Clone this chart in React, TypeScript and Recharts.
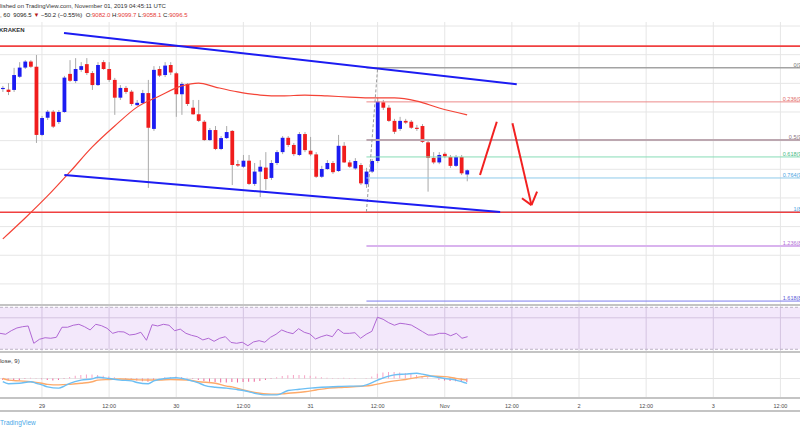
import React from 'react';
import { ComposedChart, Bar, Line, XAxis, YAxis, ReferenceLine, ReferenceArea, CartesianGrid, Cell } from 'recharts';

// ---- candles (hourly, BTCUSD Kraken, from 28 Oct 17:00 to 1 Nov 04:00 UTC) ----
const opens = [9380,9378,9377,9423,9455,9476,9458,9220,9280,9301,
  9265,9300,9433,9408,9447,9467,9436,9394,9474,9450,
  9412,9350,9384,9371,9324,9331,9366,9241,9450,9429,
  9464,9435,9362,9398,9315,9292,9266,9202,9237,9171,
  9209,9234,9118,9109,9130,9049,9092,9106,9070,9122,
  9160,9210,9185,9150,9223,9165,9152,9074,9101,9122,
  9094,9182,9124,9103,9115,9048,9092,9129,9334,9315,
  9269,9241,9269,9266,9245,9251,9194,9140,9124,9154,
  9143,9112,9143,9082.0];
const highs = [9391,9401,9454,9474,9481,9481,9499,9286,9307,9307,
  9307,9426,9481,9488,9474,9488,9443,9474,9481,9474,
  9419,9394,9391,9377,9342,9377,9412,9460,9460,9474,
  9474,9440,9405,9401,9342,9342,9272,9244,9251,9216,
  9251,9237,9132,9150,9150,9122,9132,9160,9132,9167,
  9216,9216,9192,9230,9230,9213,9160,9112,9132,9129,
  9220,9195,9132,9139,9122,9105,9136,9349,9342,9324,
  9276,9283,9276,9272,9255,9258,9202,9160,9160,9160,
  9150,9150,9150,9099.7];
const lows = [9370,9359,9370,9419,9450,9454,9192,9216,9272,9244,
  9258,9297,9405,9401,9440,9429,9377,9391,9447,9405,
  9290,9342,9363,9321,9321,9328,9035,9234,9422,9422,
  9429,9283,9290,9321,9290,9265,9199,9199,9167,9167,
  9206,9045,9108,9105,9045,9042,9003,9028,9063,9115,
  9153,9178,9146,9146,9160,9146,9070,9070,9098,9084,
  9091,9122,9105,9098,9045,9035,9087,9122,9307,9265,
  9223,9234,9258,9241,9234,9192,9022,9118,9118,9139,
  9105,9108,9080,9058.1];
const closes = [9384,9370,9429,9455,9476,9458,9220,9279,9301,9249,
  9300,9420,9409,9450,9460,9436,9394,9464,9450,9412,
  9350,9384,9370,9328,9332,9366,9245,9447,9427,9462,
  9438,9362,9398,9328,9292,9269,9202,9237,9171,9209,
  9230,9115,9113,9130,9049,9092,9109,9066,9122,9160,
  9210,9185,9153,9223,9167,9152,9074,9101,9122,9090,
  9182,9124,9109,9129,9051,9092,9129,9336,9315,9269,
  9231,9269,9263,9245,9241,9196,9140,9124,9150,9145,
  9112,9143,9086,9096.5];

// moving average (red) read at candle indices
const maPoints = [[0,8857],[4,8930],[8,9007],[12,9091],[16,9178],[20,9251],[24,9317],[28,9356],
  [32,9391],[35,9401],[38,9387],[42,9370],[46,9359],[50,9356],[54,9359],[58,9356],[62,9352],
  [66,9349],[70,9349],[74,9338],[78,9314],[83,9290]];

// RSI per candle
const rsiVals = [45.2,44.3,47.7,50.3,51.5,52.2,35.7,39.5,41,40.5,
  41.4,51,51,52.9,53.8,51.5,48.4,53.8,52.5,50,
  45.2,46.8,46.5,43.6,44.3,46.2,38.6,53.4,52.2,53.8,
  52.9,47.7,49.2,45.2,43.3,42,38.9,40.5,37.6,40.5,
  42,36.5,35.7,36.7,33.4,37,38.2,36.7,41.4,44.3,
  48.4,46.2,44.9,49.6,46.2,44.6,39.8,42,43.6,42,
  49.2,45.2,45.2,45.8,40.5,44.3,47.1,60.5,58.6,55.3,
  52.9,54.8,54.1,53.1,50,46.8,43.6,43.6,45.2,45.2,
  42.9,45.2,40.5,42];

// MACD (12, 26, close, 9)
const macdPoints = [[0,-8],[1,-13],[3,-12],[5,-8],[6,-12],[7,-16],[8,-21],[10,-24],[11,-19],[12,-12],
  [14,-4],[16,-1],[17,3],[19,0],[21,-4],[23,-6],[24,-10],[26,-13],[27,-6],[29,0],[31,2],[33,-3],
  [35,-11],[36,-17],[38,-22],[40,-24],[42,-28],[43,-30],[45,-37],[47,-41],[49,-41],[51,-30],
  [53,-27],[55,-24],[57,-22],[60,-20],[62,-19],[64,-19],[65,-16],[67,-4],[69,6],[70,9],[72,11],
  [74,13],[75,11],[77,5],[79,0],[81,-4],[82,-8],[83,-12]];
const signalPoints = [[0,0],[1,-4],[3,-6],[5,-8],[7,-12],[8,-14.6],[10,-16],[12,-14.6],[14,-12],
  [16,-8],[17,-4],[19,-2.5],[21,-1.2],[23,-2.5],[26,-3.8],[28,-3.8],[30,-2.5],[33,-3.8],[35,-8],
  [38,-12],[40,-19],[41,-21],[43,-28.8],[45,-35],[48,-39],[50,-38.5],[51,-37],[54,-33],[56,-28.8],
  [58,-24.6],[61,-22],[64,-19.5],[66,-17],[68,-11],[70,-6],[72,-2.5],[75,4.6],[76,6.2],[79,4.6],
  [81,0.4],[83,-3.8]];
const histVals = [-3,-5,-6,-5,-1,2,1,-2,-4,-5,
  -4,-1,4,7,9,10,10,9,7,5,
  3,1,-2,-3,-5,-7,-8,-4,1,3,
  4,5,4,2,-1,-4,-6,-8,-9,-10,
  -10,-9,-10,-9,-8,-8,-6,-4,-1,3,
  6,8,9,9,8,7,5,3,2,1,
  1,2,1,1,0,1,5,12,15,16,
  16,15,14,12,9,6,3,0,-3,-5,
  -6,-7,-8,-9];

// time axis
const xTicks = [7,19,31,43,55,67,79,91,103,115,127,139];
const tickLabels = ['29','12:00','30','12:00','31','12:00','Nov','12:00','2','12:00','3','12:00'];
const SLOT_COUNT = 143;

// price grid & drawings
const priceGrid = [8650,8700,8750,8800,8850,8900,8950,9000,9050,9100,9150,9200,9250,9300,9350,9400,9450,9500,9550,9600];
const redLevels = [9530, 8950];
const fibRatios = ['0','0.236','0.5','0.618','0.764','1','1.236','1.618'];
const fibPrices = [9454.0,9335.3,9202.5,9143.1,9069.7,8951.0,8832.3,8640.1];
const fibColors = ['#a3a3a3','#ec8a8a','#bca7b0','#86dcb6','#8fcbea','#8fcbea','#d9b3ee','#7d7ded'];
const fibTextColors = ['#777777','#e06767','#8b7380','#45b884','#4aa3df','#4aa3df','#b36fd6','#5b5bd8'];
const fibWidths = [1.5,1,2,1,1,1,2,1];
const fibStart = 65;
const fibAnchor = [[65,8951],[67,9454]];
const channelUpper = [[10.94,9576],[91.87,9396.6]];
const channelLower = [[11.0,9080],[88.9,8951]];
const arrowUp = [[85.3,9080],[88.3,9266]];
const arrowDown = [[91.1,9260.5],[94.5,8975]];
const arrowHeadL = [[92.8,8999],[94.5,8975]];
const arrowHeadR = [[95.5,9022],[94.5,8975]];

const RED = '#f01d1d';
const BLUE = '#1c1cf2';
const GRID = '#e6e6e6';
const FONT = '"Liberation Sans", Arial, sans-serif';

const rows: any[] = Array.from({ length: SLOT_COUNT }, (_, i) => ({
  i,
  o: opens[i] ?? null,
  h: highs[i] ?? null,
  l: lows[i] ?? null,
  c: closes[i] ?? null,
  rsi: rsiVals[i] ?? null,
  hist: histVals[i] ?? null,
  ma: null,
  macd: null,
  sig: null,
}));
maPoints.forEach(([i, v]) => { rows[i].ma = v; });
macdPoints.forEach(([i, v]) => { rows[i].macd = v; });
signalPoints.forEach(([i, v]) => { rows[i].sig = v; });

const seg = (pts: number[][]) => pts.map(([x, y]) => ({ x, y }));

const Candle = (props: any) => {
  const { x, y, width, height, payload } = props;
  if (!payload || payload.h == null || !isFinite(y) || !isFinite(height)) return null;
  const top = Math.min(y, y + height);
  const span = Math.abs(height);
  const ratio = span / (payload.h - payload.l);
  const up = payload.c >= payload.o;
  const bTop = top + (payload.h - Math.max(payload.o, payload.c)) * ratio;
  const bBot = top + (payload.h - Math.min(payload.o, payload.c)) * ratio;
  const cx = x + width / 2;
  return (
    <g>
      <line x1={cx} x2={cx} y1={top} y2={top + span} stroke="#a9a9a9" strokeWidth={1} />
      <rect x={x} y={bTop} width={width} height={Math.max(1, bBot - bTop)} fill={up ? BLUE : RED} />
    </g>
  );
};

const fibLabel = (text: string, color: string) => (p: any) => {
  const vb = p.viewBox || {};
  return (
    <text x={(vb.x || 0) + (vb.width || 0) + 17} y={(vb.y || 0) - 1} textAnchor="end"
      fontSize={5.5} fill={color} fontFamily={FONT}>{text}</text>
  );
};

const timeLabel = (text: string) => (p: any) => {
  const vb = p.viewBox || {};
  return (
    <text x={(vb.x || 0)} y={(vb.y || 0) + (vb.height || 0) + 10} textAnchor="middle"
      fontSize={5.5} fill="#4a4a4a" fontFamily={FONT}>{text}</text>
  );
};

const sep = (top: number) => (
  <div style={{ position: 'absolute', left: 0, top, width: 800, height: 2, background: '#c4c4c4' }} />
);

export default function App() {
  const margin = { top: 0, right: 0, bottom: 0, left: 0 };
  return (
    <div style={{ position: 'absolute', left: 0, top: 0, width: 800, height: 430, overflow: 'hidden', background: '#ffffff', fontFamily: FONT }}>
      {/* main price pane */}
      <div style={{ position: 'absolute', left: 0, top: 22 }}>
        <ComposedChart width={800} height={283} data={rows} margin={margin}>
          <XAxis xAxisId="cat" dataKey="i" type="category" hide />
          <XAxis xAxisId="num" dataKey="i" type="number" domain={[-0.5, 142.5]} hide allowDataOverflow />
          <YAxis yAxisId="p" type="number" domain={[8626.4, 9614.1]} hide allowDataOverflow />
          <CartesianGrid xAxisId="num" yAxisId="p" horizontalValues={priceGrid} verticalValues={xTicks} stroke={GRID} />
          {fibRatios.map((r, k) => (
            <ReferenceLine key={'f' + r} xAxisId="num" yAxisId="p"
              segment={[{ x: fibStart, y: fibPrices[k] }, { x: 142.5, y: fibPrices[k] }]}
              stroke={fibColors[k]} strokeWidth={fibWidths[k]}
              label={fibLabel(`${r}(${fibPrices[k].toFixed(1)})`, fibTextColors[k])} />
          ))}
          {redLevels.map((v) => (
            <ReferenceLine key={'r' + v} xAxisId="num" yAxisId="p" y={v} stroke="#f04040" strokeWidth={1.6} />
          ))}
          <Bar xAxisId="cat" yAxisId="p" dataKey={(d: any) => (d.h == null ? null : [d.l, d.h])}
            barSize={3.8} isAnimationActive={false} shape={(p: any) => <Candle {...p} />} />
          <Line xAxisId="cat" yAxisId="p" dataKey="ma" type="monotone" stroke="#f44336" strokeWidth={1.2}
            dot={false} activeDot={false} connectNulls isAnimationActive={false} />
          <ReferenceLine xAxisId="num" yAxisId="p" segment={seg(fibAnchor)} stroke="#9a9a9a" strokeDasharray="3 2" />
          <ReferenceLine xAxisId="num" yAxisId="p" segment={seg(channelUpper)} stroke={BLUE} strokeWidth={2} />
          <ReferenceLine xAxisId="num" yAxisId="p" segment={seg(channelLower)} stroke={BLUE} strokeWidth={2} />
          <ReferenceLine xAxisId="num" yAxisId="p" segment={seg(arrowUp)} stroke="#f22020" strokeWidth={2} />
          <ReferenceLine xAxisId="num" yAxisId="p" segment={seg(arrowDown)} stroke="#f22020" strokeWidth={2} />
          <ReferenceLine xAxisId="num" yAxisId="p" segment={seg(arrowHeadL)} stroke="#f22020" strokeWidth={2} />
          <ReferenceLine xAxisId="num" yAxisId="p" segment={seg(arrowHeadR)} stroke="#f22020" strokeWidth={2} />
        </ComposedChart>
      </div>

      {/* RSI pane */}
      <div style={{ position: 'absolute', left: 0, top: 305 }}>
        <ComposedChart width={800} height={47} data={rows} margin={margin}>
          <XAxis xAxisId="cat" dataKey="i" type="category" hide />
          <XAxis xAxisId="num" dataKey="i" type="number" domain={[-0.5, 142.5]} hide allowDataOverflow />
          <YAxis yAxisId="r" type="number" domain={[27.4, 72.2]} hide allowDataOverflow />
          <ReferenceArea xAxisId="num" yAxisId="r" x1={-0.5} x2={142.5} y1={30} y2={70} fill="#a64ce0" fillOpacity={0.13} stroke="none" />
          <CartesianGrid xAxisId="num" yAxisId="r" horizontalValues={[40, 60]} verticalValues={xTicks} stroke="#dcd6e2" />
          <ReferenceLine xAxisId="num" yAxisId="r" y={70} stroke="#bdb3c6" strokeDasharray="3 2" />
          <ReferenceLine xAxisId="num" yAxisId="r" y={30} stroke="#bdb3c6" strokeDasharray="3 2" />
          <Line xAxisId="cat" yAxisId="r" dataKey="rsi" type="linear" stroke="#b067d4" strokeWidth={1}
            dot={false} activeDot={false} isAnimationActive={false} />
        </ComposedChart>
      </div>

      {/* MACD pane + time axis labels */}
      <div style={{ position: 'absolute', left: 0, top: 352 }}>
        <ComposedChart width={800} height={59} data={rows} margin={{ top: 0, right: 0, bottom: 13, left: 0 }}>
          <XAxis xAxisId="cat" dataKey="i" type="category" hide />
          <XAxis xAxisId="num" dataKey="i" type="number" domain={[-0.5, 142.5]} hide allowDataOverflow />
          <YAxis yAxisId="m" type="number" domain={[-48.75, 66.25]} hide allowDataOverflow />
          <CartesianGrid xAxisId="num" yAxisId="m" horizontalValues={[0]} verticalValues={xTicks} stroke={GRID} />
          {xTicks.map((t, k) => (
            <ReferenceLine key={'t' + t} xAxisId="num" yAxisId="m" x={t} stroke="none" strokeOpacity={0}
              label={timeLabel(tickLabels[k])} />
          ))}
          <Bar xAxisId="cat" yAxisId="m" dataKey="hist" barSize={1} isAnimationActive={false}>
            {rows.map((r) => (
              <Cell key={'h' + r.i} fill={r.hist != null && r.hist >= 0 ? '#f7a3c5' : '#ee6399'} />
            ))}
          </Bar>
          <Line xAxisId="cat" yAxisId="m" dataKey="sig" type="monotone" stroke="#fdaa6a" strokeWidth={1.4}
            dot={false} activeDot={false} connectNulls isAnimationActive={false} />
          <Line xAxisId="cat" yAxisId="m" dataKey="macd" type="monotone" stroke="#6cbff4" strokeWidth={1.4}
            dot={false} activeDot={false} connectNulls isAnimationActive={false} />
        </ComposedChart>
      </div>

      {sep(304)}
      {sep(351)}
      {sep(397)}
      {sep(410)}

      {/* header texts */}
      <div style={{ position: 'absolute', left: 0, top: 2.5, fontSize: 6, lineHeight: '6px', color: '#333', whiteSpace: 'nowrap' }}>
        lished on TradingView.com, November 01, 2019 04:45:11 UTC
      </div>
      <div style={{ position: 'absolute', left: 0, top: 11.5, fontSize: 6, lineHeight: '6px', color: '#222', whiteSpace: 'nowrap' }}>
        <span>, 60&nbsp; 9096.5 </span>
        <span style={{ color: '#b71c1c' }}>▼</span>
        <span> −50.2 (−0.55%)&nbsp; O:</span><span style={{ color: '#e53935' }}>9082.0</span>
        <span> H:</span><span style={{ color: '#e53935' }}>9099.7</span>
        <span> L:</span><span style={{ color: '#e53935' }}>9058.1</span>
        <span> C:</span><span style={{ color: '#e53935' }}>9096.5</span>
      </div>
      <div style={{ position: 'absolute', left: -1, top: 26.8, fontSize: 6, lineHeight: '6px', fontWeight: 600, color: '#333', whiteSpace: 'nowrap' }}>
        KRAKEN
      </div>
      <div style={{ position: 'absolute', left: 0, top: 358, fontSize: 6, lineHeight: '6px', color: '#333', whiteSpace: 'nowrap' }}>
        lose, 9)
      </div>
      <div style={{ position: 'absolute', left: 0, top: 418.5, fontSize: 6.5, lineHeight: '7px', color: '#4aa8e8', whiteSpace: 'nowrap' }}>
        TradingView
      </div>
    </div>
  );
}
